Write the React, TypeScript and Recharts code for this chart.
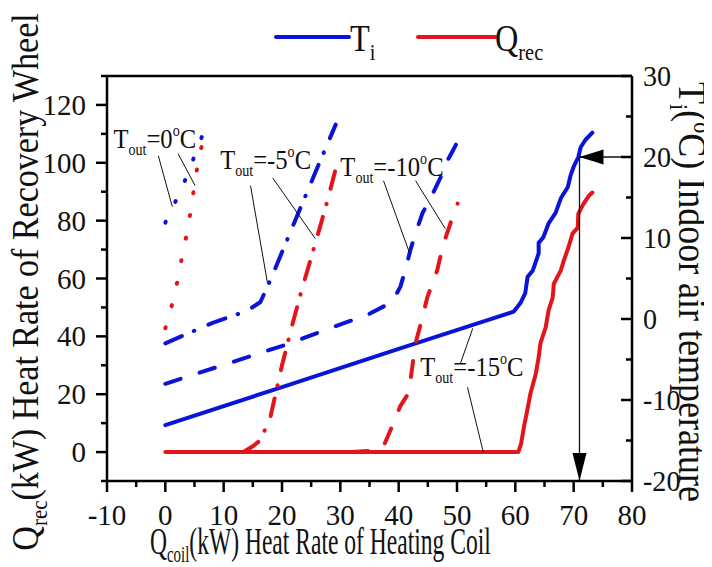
import React from "react";
import { LineChart, Line, XAxis, YAxis, ReferenceLine, ReferenceDot, Label } from "recharts";

const BLUE = "#0a14d8";
const RED = "#e3141b";
const SERIF = '"Liberation Serif", "Times New Roman", serif';

// T_out = -15 C (solid)
const x15Ti = [0, 20, 40, 56.3, 59.7, 60.9, 61.7, 62.1, 63.0, 64.0, 64.0, 64.8, 65.7, 66.9, 67.8, 69.0, 69.5, 70.0, 70.8, 71.2, 72.0, 73.2];
const ti15 = [-13.1, -8.4, -3.7, 0.1, 0.9, 2.0, 3.2, 5.2, 6.0, 8.1, 9.4, 10.1, 11.8, 13.1, 14.9, 16.3, 17.8, 18.8, 20.0, 21.2, 22.1, 23.0];
const x15Q = [0, 60.5, 61.0, 61.5, 62.0, 62.6, 63.5, 64.0, 64.3, 65.2, 65.7, 66.4, 66.6, 67.8, 68.3, 69.1, 69.8, 70.7, 70.8, 71.7, 72.6, 73.2];
const q15 = [0, 0, 3, 9, 14, 20.3, 27, 32.8, 37.6, 43.1, 49, 53.4, 58.2, 62.8, 66.2, 70.7, 75.5, 77.6, 82.4, 85.9, 88.6, 89.7];

// T_out = -10 C (dashed)
const x10Ti = [0, 21.4, 28.3, 34.6, 38.9, 40.3, 41.2, 42.0, 43.0, 44.1, 45.1, 46.2, 47.2, 48.4, 49.3, 50.1, 51.1];
const ti10 = [-8.0, -3.0, -1.1, 0.5, 2.1, 4.0, 6.2, 8.5, 10.8, 13.1, 14.4, 16.0, 17.5, 19.6, 20.8, 21.9, 23.3];
const x10Q = [32, 36, 37.4, 38.9, 40.3, 41.7, 42.9, 44.0, 44.9, 46.6, 47.7, 49.2, 50.1];
const q10 = [0, 0.5, 2, 9, 16, 20.3, 37.6, 46, 53.4, 62.8, 72.1, 81, 85.9];

// T_out = -5 C (dash-dot)
const x5Ti = [0, 8, 14, 16.3, 18.0, 20.9, 23.2, 26.6, 29.2];
const ti5 = [-3.0, -0.5, 1.0, 2.1, 4.8, 9.8, 13.8, 19.6, 24.0];
const x5Q = [13.4, 15.0, 16.3, 18.0, 20.0, 21.5, 23.2, 25.7, 27.8, 29.2];
const q5 = [0, 2, 4.1, 12, 30, 42, 54.8, 72.1, 86.9, 97.9];

// T_out = 0 C (dotted)
const x0Ti = [0, 2.0, 3.8, 5.5, 7.2];
const ti0 = [11.9, 14.9, 17.8, 21.1, 24.2];
const x0Q = [0, 1.2, 2.1, 2.9, 3.8, 4.5, 5.1, 5.8, 6.9];
const q0 = [42.8, 51.4, 59.3, 67.9, 76.6, 85.2, 93.8, 102.4, 111];

const xTicks = [-10, -5, 0, 5, 10, 15, 20, 25, 30, 35, 40, 45, 50, 55, 60, 65, 70, 75, 80];
const leftTicks = [-10, 0, 10, 20, 30, 40, 50, 60, 70, 80, 90, 100, 110, 120, 130];
const rightTicks = [-20, -15, -10, -5, 0, 5, 10, 15, 20, 25, 30];

// annotation lines: [x, Q_rec] pairs
const pointers = [
  [[-1.2, 102.4], [1.2, 84.8]],
  [[2.2, 103.1], [5.1, 92.1]],
  [[14.6, 92.1], [17.5, 58.6]],
  [[18.4, 94.8], [25.7, 73.8]],
  [[37.4, 93.8], [41.9, 68.6]],
  [[42.9, 93.8], [48.0, 77.2]],
  [[52.7, 42.8], [50.6, 30.7]],
  [[51.8, 22.4], [54.5, 0]],
];
const toutLabels = [
  { t: "0", x: -8.9, q: 105.2 },
  { t: "-5", x: 9.4, q: 97.9 },
  { t: "-10", x: 30.0, q: 95.5 },
  { t: "-15", x: 43.7, q: 26.2 },
];
const targetX = 71;
const targetTi = 20;

const pts = (xs: number[], ys: number[]) => xs.map((x, i) => ({ x, y: ys[i] }));

const isMajor = (v: number, step: number) => Math.abs(v / step - Math.round(v / step)) < 1e-6;

const Txt = ({ x, y, sx = 1, size, anchor = "start", rot = 0, children }: any) => (
  <g transform={`translate(${x},${y}) scale(${sx},1) rotate(${rot})`}>
    <text x={0} y={0} textAnchor={anchor} fontFamily={SERIF} fontSize={size} fill="#111">
      {children}
    </text>
  </g>
);

const LeftTick = (p: any) => {
  const v = p.payload.value;
  const major = isMajor(v, 20) && v >= 0 && v <= 120;
  const len = major ? 11 : 6;
  return (
    <g>
      <line x1={p.x} y1={p.y} x2={p.x - len} y2={p.y} stroke="#000" strokeWidth={2.5} />
      {major && <Txt x={p.x - 21} y={p.y + 10} sx={1} size={29} anchor="end">{String(v)}</Txt>}
    </g>
  );
};

const RightTick = (p: any) => {
  const v = p.payload.value;
  const major = isMajor(v, 10);
  const len = major ? 11 : 6;
  return (
    <g>
      <line x1={p.x} y1={p.y} x2={p.x - len} y2={p.y} stroke="#000" strokeWidth={2.5} />
      {major && <Txt x={p.x + 11} y={p.y + 10} sx={0.97} size={29}>{String(v)}</Txt>}
    </g>
  );
};

const BottomTick = (p: any) => {
  const v = p.payload.value;
  const major = isMajor(v, 10);
  const len = major ? 11 : 6;
  return (
    <g>
      <line x1={p.x} y1={p.y} x2={p.x} y2={p.y + len} stroke="#000" strokeWidth={2.5} />
      {major && <Txt x={p.x} y={p.y + 44} sx={1} size={29} anchor="middle">{String(v)}</Txt>}
    </g>
  );
};

const TopTick = (p: any) => {
  const v = p.payload.value;
  const len = isMajor(v, 10) ? 11 : 6;
  return <line x1={p.x} y1={p.y} x2={p.x} y2={p.y + len} stroke="#000" strokeWidth={2.5} />;
};

const ToutText = ({ cx, cy, t }: any) => (
  <Txt x={cx} y={cy} sx={0.88} size={28}>
    T<tspan fontSize={16} dy={7}>out</tspan>
    <tspan dy={-7}>={t}</tspan>
    <tspan fontSize={16} dy={-12}>o</tspan>
    <tspan dy={12}>C</tspan>
  </Txt>
);

const LeftTitle = () => (
  <Txt x={30} y={274} sx={1.12} size={34} rot={-90} anchor="middle">
    Q<tspan fontSize={21} dy={8}>rec</tspan>
    <tspan dy={-8}>(kW) Heat Rate of Recovery Wheel</tspan>
  </Txt>
);

const RightTitle = () => (
  <Txt x={671} y={284} sx={1.1} size={36} rot={90} anchor="middle">
    T<tspan fontSize={22} dy={8}>i</tspan>
    <tspan dy={-8}>(</tspan>
    <tspan fontSize={22} dy={-14}>o</tspan>
    <tspan dy={14}>C) Indoor air temperature</tspan>
  </Txt>
);

const BottomTitle = () => (
  <Txt x={142} y={546} sx={0.62} size={38}>
    Q<tspan fontSize={24} dy={8}>coil</tspan>
    <tspan dy={-8}>(kW) Heat Rate of Heating Coil</tspan>
  </Txt>
);

const Legend = () => (
  <svg width={700} height={60} style={{ position: "absolute", left: 0, top: 0 }}>
    <line x1={268} y1={29} x2={341} y2={29} stroke={BLUE} strokeWidth={4} strokeLinecap="round" />
    <Txt x={342} y={43} sx={0.85} size={38}>
      T<tspan fontSize={24} dy={9}>i</tspan>
    </Txt>
    <line x1={410} y1={29} x2={488} y2={29} stroke={RED} strokeWidth={4} strokeLinecap="round" />
    <Txt x={487} y={43} sx={0.85} size={38}>
      Q<tspan fontSize={24} dy={9}>rec</tspan>
    </Txt>
  </svg>
);

const series = [
  { d: pts(x15Ti, ti15), axis: "right", color: BLUE, dash: undefined },
  { d: pts(x15Q, q15), axis: "left", color: RED, dash: undefined },
  { d: pts(x10Ti, ti10), axis: "right", color: BLUE, dash: "16 20" },
  { d: pts(x10Q, q10), axis: "left", color: RED, dash: "16 20" },
  { d: pts(x5Ti, ti5), axis: "right", color: BLUE, dash: "18 13 0.5 15.5" },
  { d: pts(x5Q, q5), axis: "left", color: RED, dash: "18 13 0.5 15.5" },
  { d: pts(x0Ti, ti0), axis: "right", color: BLUE, dash: "1 22" },
  { d: pts(x0Q, q0), axis: "left", color: RED, dash: "1 22" },
];

export default function App() {
  return (
    <div style={{ position: "relative", width: 700, height: 559 }}>
      <LineChart width={700} height={559} margin={{ top: 67, right: 0, bottom: 0, left: 0 }}>
        <XAxis
          xAxisId="top"
          orientation="top"
          type="number"
          domain={[-10, 80]}
          ticks={xTicks}
          interval={0}
          height={1}
          stroke="#000"
          strokeWidth={2.5}
          tickLine={false}
          tickSize={0}
          tickMargin={0}
          tick={TopTick}
        />
        <XAxis
          dataKey="x"
          type="number"
          domain={[-10, 80]}
          ticks={xTicks}
          interval={0}
          height={86}
          stroke="#000"
          strokeWidth={2.5}
          tickLine={false}
          tickSize={0}
          tickMargin={0}
          tick={BottomTick}
          allowDuplicatedCategory={false}
        >
          <Label content={BottomTitle} />
        </XAxis>
        <YAxis
          yAxisId="left"
          type="number"
          domain={[-10, 130]}
          ticks={leftTicks}
          interval={0}
          width={99}
          stroke="#000"
          strokeWidth={2.5}
          tickLine={false}
          tickSize={0}
          tickMargin={0}
          tick={LeftTick}
        >
          <Label content={LeftTitle} />
        </YAxis>
        <YAxis
          yAxisId="right"
          orientation="right"
          type="number"
          domain={[-20, 30]}
          ticks={rightTicks}
          interval={0}
          width={76}
          stroke="#000"
          strokeWidth={2.5}
          tickLine={false}
          tickSize={0}
          tickMargin={0}
          tick={RightTick}
        >
          <Label content={RightTitle} />
        </YAxis>

        {series.map((s, i) => (
          <Line
            key={i}
            data={s.d}
            dataKey="y"
            yAxisId={s.axis}
            type="linear"
            stroke={s.color}
            strokeWidth={4}
            strokeDasharray={s.dash}
            strokeLinecap="round"
            strokeLinejoin="round"
            dot={false}
            activeDot={false}
            isAnimationActive={false}
          />
        ))}

        {pointers.map((seg, i) => (
          <ReferenceLine
            key={"p" + i}
            yAxisId="left"
            segment={[{ x: seg[0][0], y: seg[0][1] }, { x: seg[1][0], y: seg[1][1] }]}
            stroke="#111"
            strokeWidth={1}
            ifOverflow="visible"
          />
        ))}

        <ReferenceLine
          yAxisId="right"
          segment={[{ x: targetX, y: targetTi }, { x: 80, y: targetTi }]}
          stroke="#111"
          strokeWidth={1.3}
        />
        <ReferenceLine
          yAxisId="right"
          segment={[{ x: targetX, y: targetTi }, { x: targetX, y: -20 }]}
          stroke="#111"
          strokeWidth={1.3}
        />
        <ReferenceDot
          yAxisId="right"
          x={targetX}
          y={targetTi}
          r={1}
          shape={(p: any) => (
            <polygon points={`${p.cx},${p.cy} ${p.cx + 24},${p.cy - 7.5} ${p.cx + 24},${p.cy + 7.5}`} fill="#000" />
          )}
        />
        <ReferenceDot
          yAxisId="right"
          x={targetX}
          y={-20}
          r={1}
          shape={(p: any) => (
            <polygon points={`${p.cx},${p.cy} ${p.cx - 7},${p.cy - 28} ${p.cx + 7},${p.cy - 28}`} fill="#000" />
          )}
        />

        {toutLabels.map((l, i) => (
          <ReferenceDot
            key={"l" + i}
            yAxisId="left"
            x={l.x}
            y={l.q}
            r={1}
            ifOverflow="visible"
            shape={(p: any) => <ToutText cx={p.cx} cy={p.cy} t={l.t} />}
          />
        ))}
      </LineChart>
      <Legend />
    </div>
  );
}
